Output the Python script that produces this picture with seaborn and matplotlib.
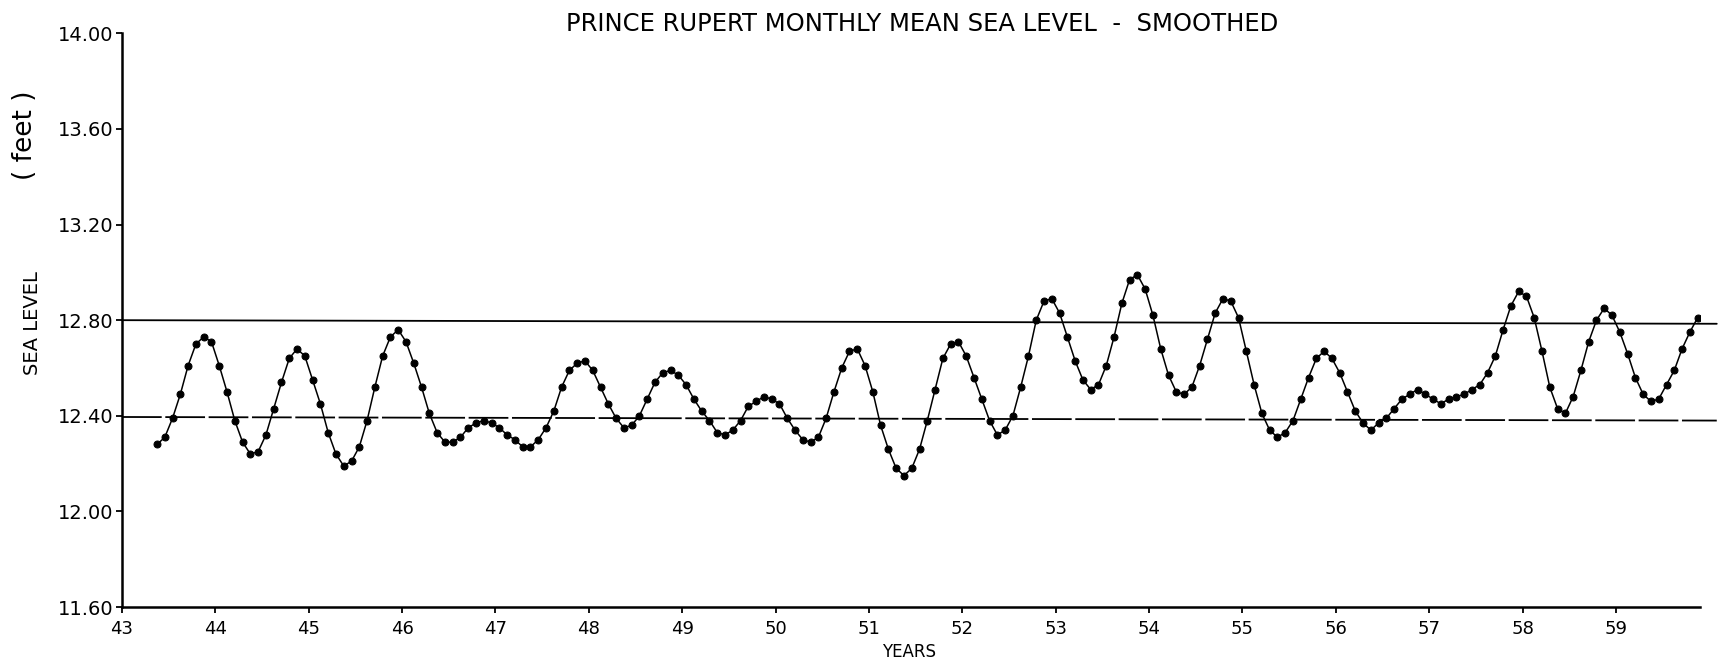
import numpy as np
import pandas as pd
import seaborn as sns
import matplotlib.pyplot as plt

# first smoothed value is May 1943, one value per month
start_year = 43
start_month = 5

sea_level = [
    # 1943 (May-Dec)
    12.28, 12.31, 12.39, 12.49, 12.61, 12.70, 12.73, 12.71,
    # 1944
    12.61, 12.50, 12.38, 12.29, 12.24, 12.25, 12.32, 12.43, 12.54, 12.64, 12.68, 12.65,
    # 1945
    12.55, 12.45, 12.33, 12.24, 12.19, 12.21, 12.27, 12.38, 12.52, 12.65, 12.73, 12.76,
    # 1946
    12.71, 12.62, 12.52, 12.41, 12.33, 12.29, 12.29, 12.31, 12.35, 12.37, 12.38, 12.37,
    # 1947
    12.35, 12.32, 12.30, 12.27, 12.27, 12.30, 12.35, 12.42, 12.52, 12.59, 12.62, 12.63,
    # 1948
    12.59, 12.52, 12.45, 12.39, 12.35, 12.36, 12.40, 12.47, 12.54, 12.58, 12.59, 12.57,
    # 1949
    12.53, 12.47, 12.42, 12.38, 12.33, 12.32, 12.34, 12.38, 12.44, 12.46, 12.48, 12.47,
    # 1950
    12.45, 12.39, 12.34, 12.30, 12.29, 12.31, 12.39, 12.50, 12.60, 12.67, 12.68, 12.61,
    # 1951
    12.50, 12.36, 12.26, 12.18, 12.15, 12.18, 12.26, 12.38, 12.51, 12.64, 12.70, 12.71,
    # 1952
    12.65, 12.56, 12.47, 12.38, 12.32, 12.34, 12.40, 12.52, 12.65, 12.80, 12.88, 12.89,
    # 1953
    12.83, 12.73, 12.63, 12.55, 12.51, 12.53, 12.61, 12.73, 12.87, 12.97, 12.99, 12.93,
    # 1954
    12.82, 12.68, 12.57, 12.50, 12.49, 12.52, 12.61, 12.72, 12.83, 12.89, 12.88, 12.81,
    # 1955
    12.67, 12.53, 12.41, 12.34, 12.31, 12.33, 12.38, 12.47, 12.56, 12.64, 12.67, 12.64,
    # 1956
    12.58, 12.50, 12.42, 12.37, 12.34, 12.37, 12.39, 12.43, 12.47, 12.49, 12.51, 12.49,
    # 1957
    12.47, 12.45, 12.47, 12.48, 12.49, 12.51, 12.53, 12.58, 12.65, 12.76, 12.86, 12.92,
    # 1958
    12.90, 12.81, 12.67, 12.52, 12.43, 12.41, 12.48, 12.59, 12.71, 12.80, 12.85, 12.82,
    # 1959 (Jan-Nov)
    12.75, 12.66, 12.56, 12.49, 12.46, 12.47, 12.53, 12.59, 12.68, 12.75, 12.81,
]

# the two guide lines drawn across the plot
guide_x = [43.0, 60.08]
upper_guide = [12.80, 12.785]
lower_guide = [12.395, 12.38]

y_ticks = [11.60, 12.00, 12.40, 12.80, 13.20, 13.60, 14.00]
x_ticks = list(range(43, 60))

months = np.arange(len(sea_level))
df = pd.DataFrame({
    "year": start_year + (start_month - 0.5 + months) / 12,
    "level": sea_level,
})

sns.set_style("ticks")
plt.rcParams['font.family'] = ['DejaVu Sans']
plt.rcParams['text.color'] = 'black'
plt.rcParams['xtick.color'] = 'black'
plt.rcParams['ytick.color'] = 'black'

fig = plt.figure(figsize=(17.18, 6.64), dpi=100)
ax = fig.add_axes([0.071, 0.0858, 0.9185, 0.864])

ax.plot(guide_x, upper_guide, color="black", lw=1.3, clip_on=False)
ax.plot(guide_x, lower_guide, color="black", lw=1.3, dashes=(22, 2), clip_on=False)

sns.lineplot(data=df, x="year", y="level", ax=ax, color="black", lw=1.1,
             marker="o", markersize=5.0, markeredgecolor="black",
             markerfacecolor="black")

ax.set_xlim(43, 59.9)
ax.set_ylim(11.6, 14.0)
ax.set_xticks(x_ticks)
ax.set_xticklabels([str(t) for t in x_ticks], fontsize=13)
ax.set_yticks(y_ticks)
ax.set_yticklabels(["%.2f" % t for t in y_ticks], fontsize=14)
ax.tick_params(direction="out", length=4, width=1.3, pad=2)
ax.tick_params(axis="x", pad=5)
ax.set_xlabel("")
ax.set_ylabel("")
sns.despine(ax=ax)
for side in ["left", "bottom"]:
    ax.spines[side].set_linewidth(1.8)
    ax.spines[side].set_color("black")

fig.text(0.537, 0.964, "PRINCE RUPERT MONTHLY MEAN SEA LEVEL  -  SMOOTHED",
         ha="center", va="center", fontsize=17.5)
fig.text(0.529, 0.018, "YEARS", ha="center", va="center", fontsize=12)
fig.text(0.0192, 0.514, "SEA LEVEL", rotation=90, ha="center", va="center", fontsize=14)
fig.text(0.0146, 0.797, "( feet )", rotation=90, ha="center", va="center", fontsize=19)

fig.savefig("out.png", dpi=100)
